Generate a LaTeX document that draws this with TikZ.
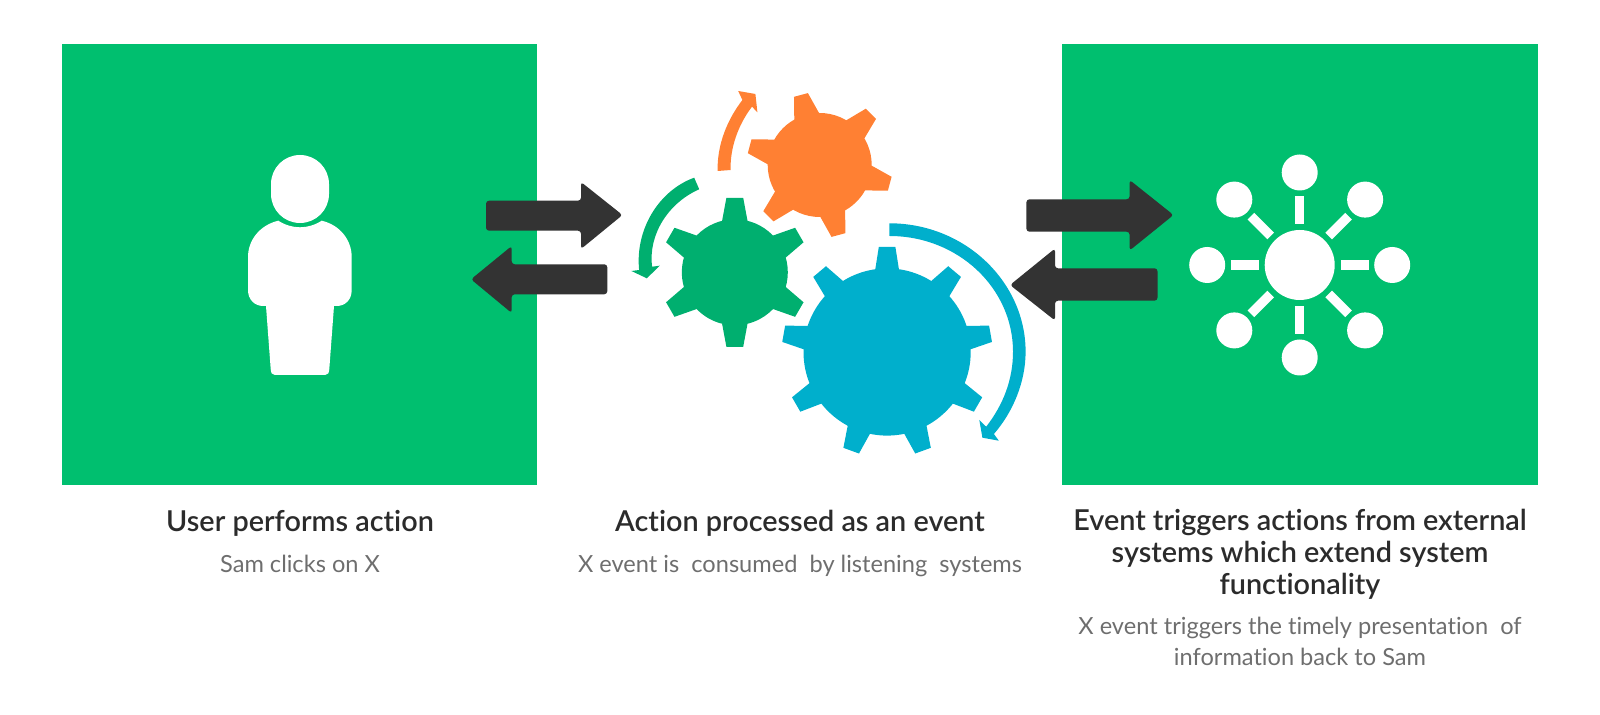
\documentclass[tikz,border=0pt]{standalone}
\usepackage{fontspec}
\setmainfont{Lato}[Ligatures=CommonOff,BoldFont={Lato Semibold}]
\definecolor{panelgreen}{HTML}{00BF6F}
\definecolor{geargreen}{HTML}{00AF6F}
\definecolor{gearorange}{HTML}{FF8033}
\definecolor{gearblue}{HTML}{00AFCC}
\definecolor{arrowdark}{HTML}{333333}
\definecolor{headtext}{HTML}{2B2B2B}
\definecolor{subtext}{HTML}{6E6E6E}
\tikzset{
	panel/.style={fill=panelgreen},
	darkarrow/.style={fill=arrowdark,rounded corners=1.5pt},
	heading/.style={anchor=base,align=center,inner sep=0pt,text=headtext,font=\bfseries\fontsize{14.4}{16}\selectfont},
	subheading/.style={anchor=base,align=center,inner sep=0pt,text=subtext,font=\fontsize{11.8}{15.3}\selectfont}
}
% centre, teeth, first angle, radius, tip radius, base half width, tip half width, colour
\newcommand{\gearwheel}[8]{
	\begin{scope}[shift={#1}]
		\fill[#8] (0, 0) circle [radius=#4*0.5pt];
		\foreach \i in {1,...,#2}
			\fill[#8,rotate=#3+\i*360/#2] (#4-2, -#6) -- (#5, -#7) -- (#5, #7) -- (#4-2, #6) -- cycle;
	\end{scope}
}
\begin{document}
\begin{tikzpicture}[x=0.5pt,y=-0.5pt]
		\useasboundingbox (0, 0) rectangle (1600, 715);

		% panels
		\fill[panel] (62, 44) rectangle (537, 485);
		\fill[panel] (1062, 44) rectangle (1537.5, 485);

		% person
		\fill[white,rounded corners=14.5pt] (271, 155) rectangle (329, 223);
		\fill[white] (278.3, 220.7) .. controls (260, 225) and (248, 240) .. (248, 257) --
					 (248, 290) .. controls (248, 300) and (255, 306) .. (263.3, 306) --
					 (266, 306) -- (270.7, 369) .. controls (271, 373) and (272, 375) .. (275, 375) --
					 (325, 375) .. controls (328, 375) and (329, 373) .. (329.3, 369) --
					 (334, 306) -- (336.7, 306) .. controls (345, 306) and (351.7, 300) .. (351.7, 290) --
					 (351.7, 257) .. controls (351.7, 240) and (340, 225) .. (321.7, 220.7) ..
					 controls (308, 229.5) and (292, 229.5) .. (278.3, 220.7) -- cycle;

		% network
		\fill[white] (1299.7, 265) circle [radius=35];
		\foreach \a in {0,45,...,315} {
			\begin{scope}[shift={(1299.7, 265)},rotate=\a]
				\fill[white] (92.5, 0) circle [radius=18];
				\fill[white] (41, -4.7) rectangle (69, 4.7);
			\end{scope}
		}

		% arrows on the left
		\fill[darkarrow] (486, 200.7) -- (581, 200.7) -- (581, 182) -- (622.5, 215) -- (581, 249) --
						 (581, 230.7) -- (486, 230.7) -- cycle;
		\fill[darkarrow] (607.3, 264.3) -- (511.7, 264.3) -- (511.7, 246) -- (471, 279.3) --
						 (511.7, 313) -- (511.7, 294.3) -- (607.3, 294.3) -- cycle;

		% arrows on the right
		\fill[darkarrow] (1026.4, 199.3) -- (1129.6, 199.3) -- (1129.6, 180) -- (1173.5, 215) --
						 (1129.6, 250.5) -- (1129.6, 231.7) -- (1026.4, 231.7) -- cycle;
		\fill[darkarrow] (1157.5, 268.3) -- (1055, 268.3) -- (1055, 248.5) -- (1010, 285) --
						 (1055, 320.5) -- (1055, 300.7) -- (1157.5, 300.7) -- cycle;

		% gears
		\gearwheel{(819.7, 165)}{6}{45}{52}{72.5}{12.9}{7.2}{gearorange}
		\gearwheel{(734.8, 272.3)}{6}{30}{53}{74.5}{12.8}{8.4}{geargreen}
		\gearwheel{(887.1, 352)}{9}{90}{83.6}{105}{12}{8.3}{gearblue}

		% turning arrows
		\fill[gearorange] (717.6, 171) .. controls (717, 145) and (727, 120) .. (742.4, 100) --
						  (738.2, 91) -- (755.4, 94) -- (757.4, 112.3) -- (752, 106.7) ..
						  controls (738, 125) and (730, 148) .. (730.6, 170) -- cycle;
		\fill[geargreen] (694.2, 177.7) .. controls (660, 190) and (635, 228) .. (639.1, 270) --
						 (631.4, 271) -- (646.8, 278.3) -- (659.8, 265.7) -- (652.1, 266.7) ..
						 controls (648, 235) and (668, 203) .. (699.2, 189.3) -- cycle;
		\fill[gearblue] (889.4, 223.3) .. controls (965, 223.3) and (1025.6, 282) .. (1025.6, 351.7) ..
						controls (1025.6, 382) and (1013, 412) .. (993.9, 434) -- (998.8, 440.7) --
						(982.4, 437.7) -- (979.3, 420) -- (986.2, 426.7) .. controls (1003, 405) and (1013, 380) ..
						(1013, 351.7) .. controls (1013, 288) and (958, 236) .. (889.4, 236) -- cycle;

		% captions
		\node[heading] (usertitle) at (300, 531) {User performs action};
		\node[subheading] (usertext) at (300, 572.5) {Sam clicks on X};
		\node[heading] (actiontitle) at (800, 531) {Action processed as an event};
		\node[subheading] (actiontext) at (800, 572.5) {X event is~ consumed~ by listening~ systems};
		\node[heading] (eventtitle) at (1300, 594) {Event triggers actions from external\\systems which extend system\\functionality};
		\node[subheading] (eventtext) at (1300, 665.5) {X event triggers the timely presentation~ of\\information back to Sam};

	\end{tikzpicture}
\end{document}
